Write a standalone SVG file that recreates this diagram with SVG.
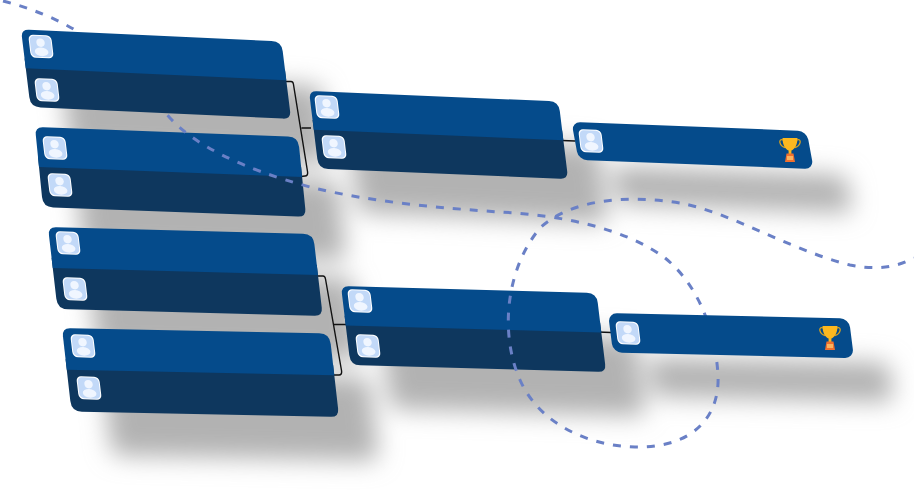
<svg xmlns="http://www.w3.org/2000/svg" width="914" height="498" viewBox="0 0 914 498">
<style>
.top{fill:#054b8b}
.bot{fill:#0e375e}
.link{fill:none;stroke:#111;stroke-width:1.4;stroke-linejoin:round}
.dash{fill:none;stroke:#6a80c6;stroke-width:3;stroke-dasharray:8 9}
</style>
<defs>
<filter id="blur" x="-10%" y="-10%" width="120%" height="120%"><feGaussianBlur stdDeviation="12"/></filter>
<path id="bigTop" d="M8 0H250Q260 0 260 10V40H0V8Q0 0 8 0Z"/>
<path id="bigBot" d="M0 30H260V72Q260 80 252 80H10Q0 80 0 70Z"/>
<rect id="bigAll" width="260" height="80" rx="9"/>
<rect id="smallAll" width="240" height="40" rx="9"/>
<g id="avatar">
<rect x="-11.500" y="-11.500" width="23" height="23" rx="5" fill="#fff"/>
<rect x="-10.500" y="-10.500" width="21" height="21" rx="4.500" fill="#c2d9f8"/>
<circle cx="0" cy="-3.800" r="4.200" fill="#f0f6ff"/>
<ellipse cx="0" cy="5.300" rx="6.800" ry="4.400" fill="#f0f6ff"/>
</g>
<g id="trophy">
<path d="M3 2C-2 0 -1 8 5 9.500M17 2C22 0 21 8 15 9.500" fill="none" stroke="#d9a21c" stroke-width="1.300"/>
<path d="M2.500 0H17.500C17.500 7 14.500 11.500 11.400 12.500V16H8.600V12.500C5.500 11.500 2.500 7 2.500 0Z" fill="#fcb81f"/>
<path d="M6.500 15.500H13.500L15 24H5Z" fill="#f0702e"/>
<rect x="7" y="18" width="6" height="4" fill="#fbb45f"/>
</g>
</defs>
<g id="shadows" fill="#b2b2b2" filter="url(#blur)">
<use href="#bigAll" transform="matrix(1.002 .046 .119 .969 61 74)"/>
<use href="#bigAll" transform="matrix(1.012 .038 .1 1 75 171)"/>
<use href="#bigAll" transform="matrix(1.02 .027 .119 1.025 88 271)"/>
<use href="#bigAll" transform="matrix(1.029 .021 .119 1.044 102 372)"/>
<use href="#bigAll" transform="matrix(.96 .04 .119 .97 349 135)"/>
<use href="#bigAll" transform="matrix(.983 .027 .119 .988 381 330)"/>
<use href="#smallAll" transform="matrix(.98 .0375 .175 .95 611 166)"/>
<use href="#smallAll" transform="matrix(1.004 .023 .125 .99 648 357)"/>
</g>
<g id="connectors">
<path class="link" d="M286 81.500H291Q293 81.500 293.400 84L307.600 172Q308 176 305 176L301 176.500M301.500 128H311"/>
<path class="link" d="M318 276H323Q325 276 325.500 279L341.600 371Q342 375 339 375L334 375M333 324.500H346"/>
<path class="link" d="M562 140.500L575 141"/>
<path class="link" d="M598 332L611 332.500"/>
</g>
<g id="node-semi-2">
<g transform="matrix(1.012 .038 .1 1 35 127)"><use href="#bigBot" class="bot"/><use href="#bigTop" class="top"/></g>
<use href="#avatar" transform="matrix(1 .04 .12 1 55 148)"/>
<use href="#avatar" transform="matrix(1 .04 .12 1 60 185)"/>
</g>
<g id="node-semi-3">
<g transform="matrix(1.02 .027 .119 1.025 48 227)"><use href="#bigBot" class="bot"/><use href="#bigTop" class="top"/></g>
<use href="#avatar" transform="matrix(1 .04 .12 1 68 243)"/>
<use href="#avatar" transform="matrix(1 .04 .12 1 75 289)"/>
</g>
<g id="node-semi-4">
<g transform="matrix(1.029 .021 .119 1.044 62 328)"><use href="#bigBot" class="bot"/><use href="#bigTop" class="top"/></g>
<use href="#avatar" transform="matrix(1 .04 .12 1 83 346)"/>
<use href="#avatar" transform="matrix(1 .04 .12 1 89 388)"/>
</g>
<g id="node-mid-1">
<g transform="matrix(.96 .04 .119 .97 309 91)"><use href="#bigBot" class="bot"/><use href="#bigTop" class="top"/></g>
<use href="#avatar" transform="matrix(1 .04 .12 1 327 107)"/>
<use href="#avatar" transform="matrix(1 .04 .12 1 334 147)"/>
</g>
<g id="node-mid-2">
<g transform="matrix(.983 .027 .119 .988 341 286)"><use href="#bigBot" class="bot"/><use href="#bigTop" class="top"/></g>
<use href="#avatar" transform="matrix(1 .04 .12 1 360 301)"/>
<use href="#avatar" transform="matrix(1 .04 .12 1 368 346)"/>
</g>
<path id="route" class="dash" d="M3 1C30 8 55 18 75 30C105 50 140 85 170 118C195 145 240 168 310 187C370 202 440 208 500 212C560 215 625 228 665 258C695 282 715 325 718 375C720 415 695 448 635 447C590 446 540 425 520 380C500 335 505 270 540 228C570 200 625 194 680 203C730 212 790 250 850 265C875 270 895 268 914 258"/>
<g id="node-semi-1">
<g transform="matrix(1.002 .046 .119 .969 21 29.500)"><use href="#bigBot" class="bot"/><use href="#bigTop" class="top"/></g>
<use href="#avatar" transform="matrix(1 .04 .12 1 41 46.500)"/>
<use href="#avatar" transform="matrix(1 .04 .12 1 47 90)"/>
</g>
<g id="node-final-1">
<use href="#smallAll" class="top" transform="matrix(.98 .0375 .175 .95 571.500 122)"/>
<use href="#avatar" transform="matrix(1 .04 .12 1 591 141)"/>
<use href="#trophy" transform="translate(780 138)"/>
</g>
<g id="node-final-2">
<use href="#smallAll" class="top" transform="matrix(1.004 .023 .125 .99 608 313)"/>
<use href="#avatar" transform="matrix(1 .04 .12 1 628 333)"/>
<use href="#trophy" transform="translate(820 326)"/>
</g>
</svg>
